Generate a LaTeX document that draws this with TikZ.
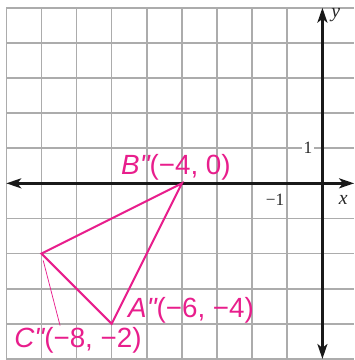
\documentclass[tikz,border=0pt]{standalone}
\usepackage{fontspec}
\setmainfont{Liberation Serif}
\newfontfamily\etiqfont{Liberation Sans}
\usetikzlibrary{arrows.meta}
\definecolor{rosa}{RGB}{232, 30, 140}
\definecolor{rejilla}{RGB}{172, 172, 172}

\begin{document}
\begin{tikzpicture}[
  punto/.style={rosa, font=\etiqfont\fontsize{22.5}{22.5}\selectfont, inner sep=1pt},
  numero/.style={black!85, font=\fontsize{14}{14}\selectfont, inner sep=1pt},
  eje/.style={line width=2.7pt, black!90, {Stealth[length=12pt, width=8pt, inset=3pt]}-{Stealth[length=12pt, width=8pt, inset=3pt]}}]
  \useasboundingbox (-9.18,-5.03) rectangle (0.90,5.22);

  % Rejilla
  \foreach \x in {-9,...,-1} {
    \draw[rejilla, line width=1.3pt] (\x,-5) -- (\x,5);
  }
  \foreach \y in {-5,...,5} {
    \draw[rejilla, line width=1.3pt] (-9,\y) -- (0.9,\y);
  }

  % Ejes
  \draw[eje] (-9,0) -- (0.9,0);
  \draw[eje] (0,-5) -- (0,5);
  \node[numero, font=\itshape\fontsize{16}{16}\selectfont] (ejex) at (0.59,-0.48) {x};
  \node[numero, font=\itshape\fontsize{16}{16}\selectfont] (ejey) at (0.38,4.80) {y};
  \node[numero, fill=white] (uno) at (-0.41,1.0) {1};
  \node[numero] (menosuno) at (-1.35,-0.48) {−1};

  % Triangulo A''B''C''
  \coordinate (A) at (-6,-4);
  \coordinate (B) at (-4,0);
  \coordinate (C) at (-8,-2);
  \draw[rosa, line width=1.6pt] (A) -- (B) -- (C) -- cycle;

  % Etiquetas
  \node[punto] (etiqB) at (-4.17,0.46) {{\itshape B"}(−4, 0)};
  \node[punto] (etiqA) at (-3.74,-3.61) {{\itshape A"}(−6, −4)};
  \node[punto] (etiqC) at (-6.96,-4.46) {{\itshape C"}(−8, −2)};
  \coordinate (guiaC) at (-7.47,-4.05);
  \draw[rosa, line width=0.6pt, shorten >=0.2cm] (guiaC) -- (C);
\end{tikzpicture}
\end{document}
